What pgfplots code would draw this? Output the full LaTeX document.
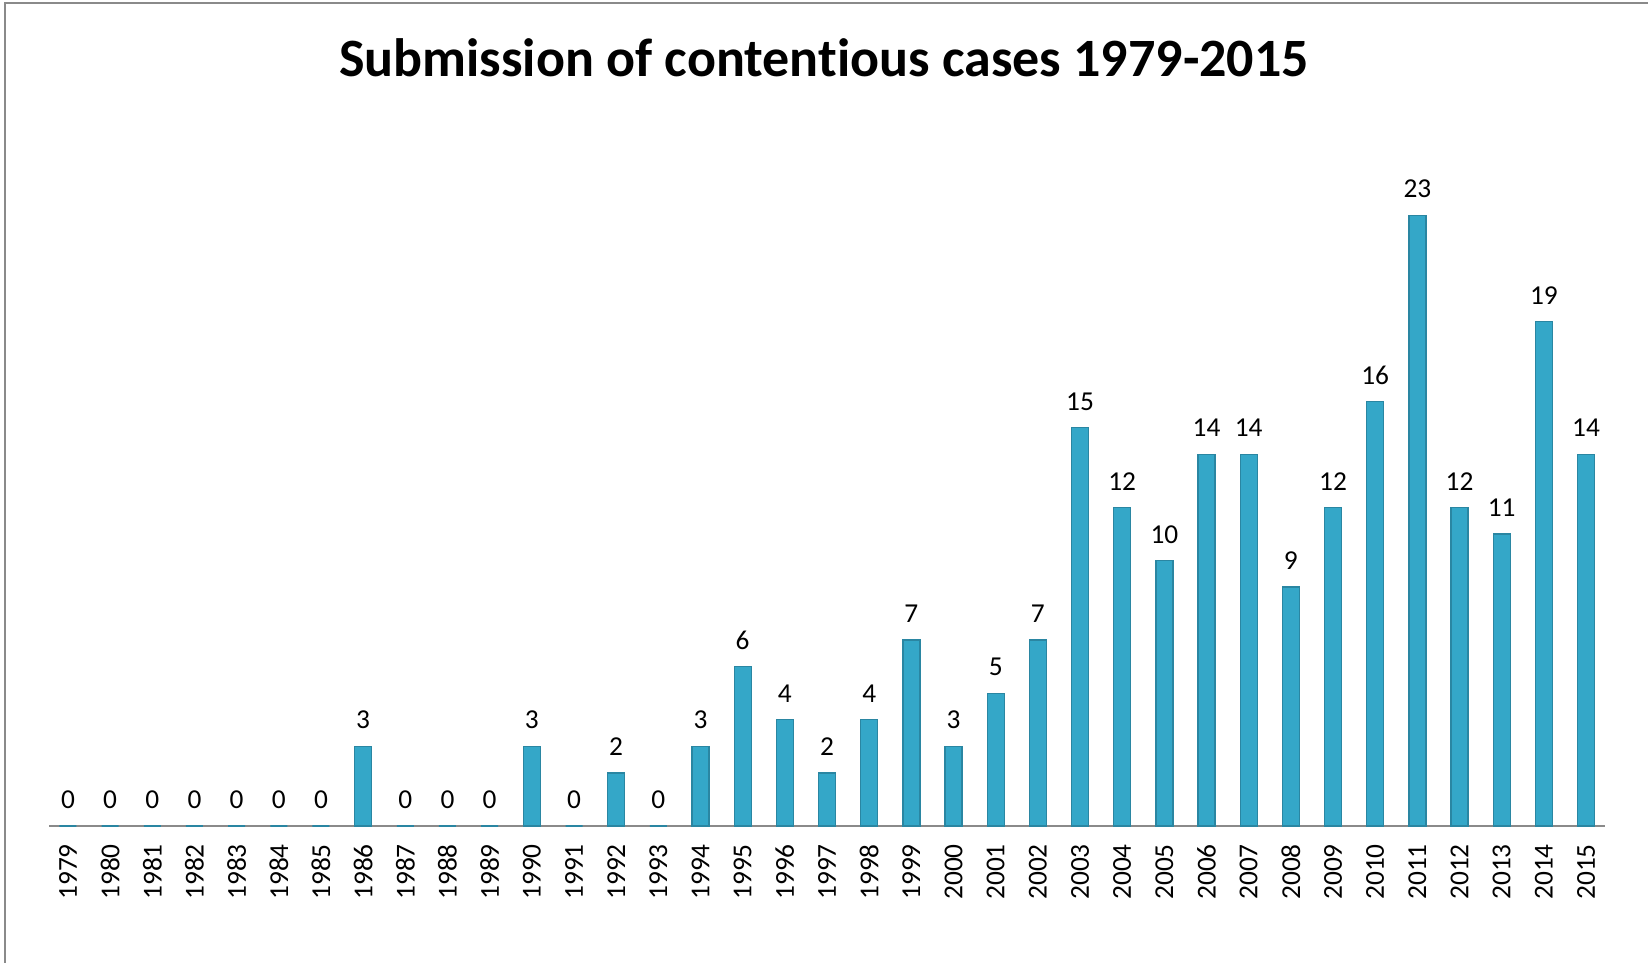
\documentclass[border=0pt]{standalone}
\usepackage{pgfplots}
\pgfplotsset{compat=1.18}
\usepackage{fontspec}
\setmainfont{Carlito}[Ligatures={NoCommon}]
\definecolor{barfill}{HTML}{34A7C8}
\definecolor{baredge}{HTML}{2A86A2}
\definecolor{axgray}{HTML}{8A8A8A}
\begin{document}
\begin{tikzpicture}[x=1pt,y=1pt]
\useasboundingbox (-22.05,-61.65) rectangle (719.55,371.7);
\draw[axgray,line width=0.9pt] (-19.7,-61.65) -- (-19.7,370.4) -- (719.55,370.4);
\node[font=\fontsize{24.3}{29}\selectfont\bfseries] at (348.75,345.6) {Submission of contentious cases 1979-2015};
\begin{axis}[
  at={(0,0)}, anchor=origin,
  scale only axis, width=700.2pt, height=298.7pt,
  xmin=1978.55, xmax=2015.45, ymin=0, ymax=25,
  axis x line=bottom, axis y line=none,
  x axis line style={axgray,line width=0.9pt,-},
  xtick=data, major tick length=0pt,
  /pgf/number format/1000 sep={},
  /pgf/number format/assume math mode=true,
  xticklabel style={font=\fontsize{12.3}{14}\selectfont, yshift=-8pt, rotate=90, anchor=east, inner sep=0pt},
  ybar, bar width=7.65pt,
  nodes near coords,
  every node near coord/.append style={font=\fontsize{12.3}{14}\selectfont, anchor=center, yshift=11.8pt, inner sep=0pt},
  clip=false,
]
\addplot[draw=baredge, line width=0.6pt, fill=barfill] coordinates {
(1979,0) (1980,0) (1981,0) (1982,0) (1983,0) (1984,0) (1985,0) (1986,3) (1987,0) (1988,0)
(1989,0) (1990,3) (1991,0) (1992,2) (1993,0) (1994,3) (1995,6) (1996,4) (1997,2) (1998,4)
(1999,7) (2000,3) (2001,5) (2002,7) (2003,15) (2004,12) (2005,10) (2006,14) (2007,14) (2008,9)
(2009,12) (2010,16) (2011,23) (2012,12) (2013,11) (2014,19) (2015,14)
};
\end{axis}
\end{tikzpicture}
\end{document}
